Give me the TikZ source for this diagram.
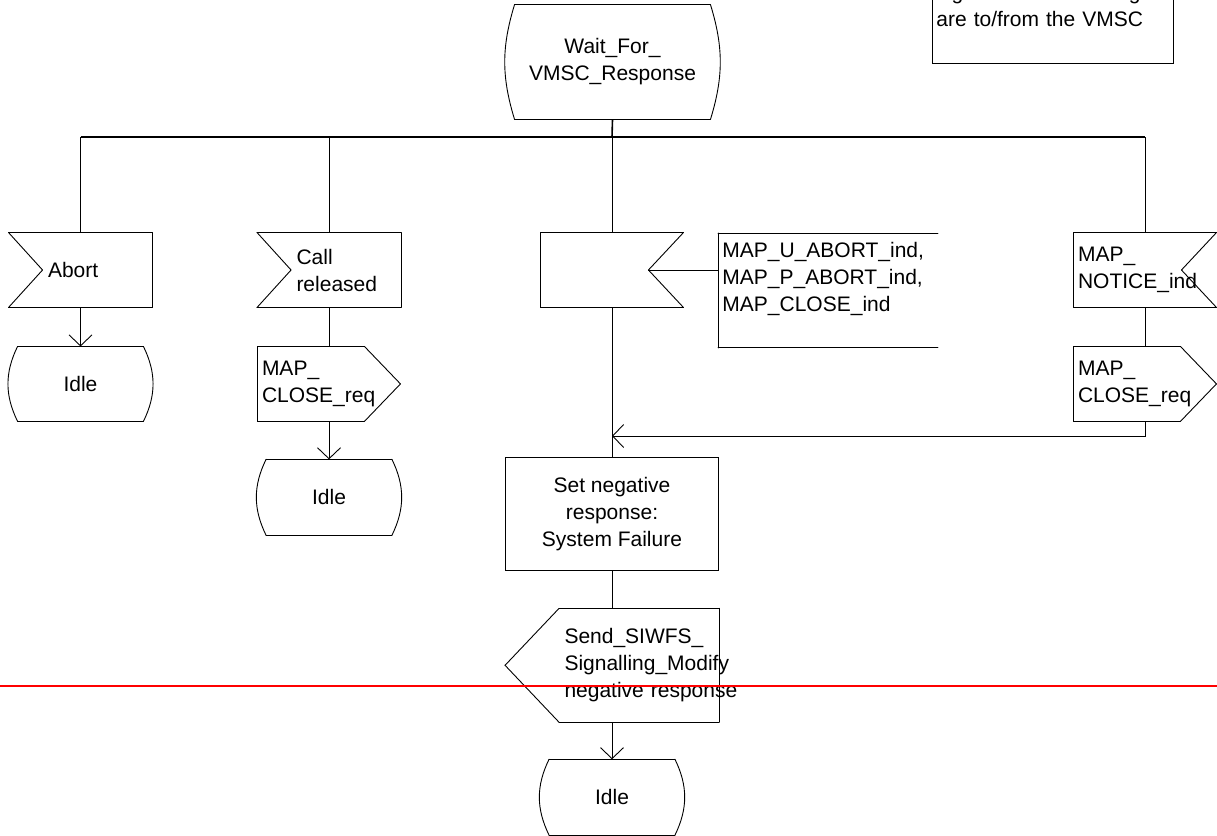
\documentclass[tikz,border=0pt]{standalone}
\usepackage{fontspec}
\setmainfont{Liberation Sans}
\usepackage{tikz}
\usetikzlibrary{
  positioning,
  arrows.meta
}
\tikzstyle{arrow}     = [->,>={Straight Barb[length=11pt,width=23pt]}]
\tikzstyle{busline}   = [line width=1.6pt]

\begin{document}
\begin{tikzpicture}[
x=1pt, y=-1pt, line width=0.9pt,
every node/.style={font=\fontsize{21}{27}\selectfont},
every edge/.style={draw, line cap=round},
statenode/.style={minimum width=125pt, minimum height=74pt, align=center,
  append after command={
    (\tikzlastnode.north west) edge (\tikzlastnode.north east)
    (\tikzlastnode.north east) edge[bend left=#1] (\tikzlastnode.south east)
    (\tikzlastnode.south east) edge (\tikzlastnode.south west)
    (\tikzlastnode.south west) edge[bend left=#1] (\tikzlastnode.north west)}},
statenode/.default=26,
inputnode/.style={minimum width=143pt, minimum height=74pt, inner xsep=39pt, text width=65pt, align=left,
  append after command={
    (\tikzlastnode.north west) edge (\tikzlastnode.north east)
    (\tikzlastnode.north east) edge (\tikzlastnode.south east)
    (\tikzlastnode.south east) edge (\tikzlastnode.south west)
    (\tikzlastnode.south west) edge ([xshift=34pt]\tikzlastnode.west)
    ([xshift=34pt]\tikzlastnode.west) edge (\tikzlastnode.north west)}},
inputrnode/.style={minimum width=142pt, minimum height=74pt, inner xsep=4pt, text width=134pt, align=left,
  append after command={
    (\tikzlastnode.north east) edge (\tikzlastnode.north west)
    (\tikzlastnode.north west) edge (\tikzlastnode.south west)
    (\tikzlastnode.south west) edge (\tikzlastnode.south east)
    (\tikzlastnode.south east) edge ([xshift=-35pt]\tikzlastnode.east)
    ([xshift=-35pt]\tikzlastnode.east) edge (\tikzlastnode.north east)}},
outputnode/.style={minimum width=142pt, minimum height=74pt, inner xsep=4pt, text width=134pt, align=left,
  append after command={
    (\tikzlastnode.north west) edge ([xshift=-36pt]\tikzlastnode.north east)
    ([xshift=-36pt]\tikzlastnode.north east) edge (\tikzlastnode.east)
    (\tikzlastnode.east) edge ([xshift=-36pt]\tikzlastnode.south east)
    ([xshift=-36pt]\tikzlastnode.south east) edge (\tikzlastnode.south west)
    (\tikzlastnode.south west) edge (\tikzlastnode.north west)}},
outputlnode/.style={minimum width=213pt, minimum height=113pt, inner xsep=59pt, text width=95pt, align=left,
  append after command={
    (\tikzlastnode.north east) edge ([xshift=54pt]\tikzlastnode.north west)
    ([xshift=54pt]\tikzlastnode.north west) edge (\tikzlastnode.west)
    (\tikzlastnode.west) edge ([xshift=54pt]\tikzlastnode.south west)
    ([xshift=54pt]\tikzlastnode.south west) edge (\tikzlastnode.south east)
    (\tikzlastnode.south east) edge (\tikzlastnode.north east)}},
extnode/.style={minimum width=219pt, minimum height=114pt, inner xsep=4pt, text width=211pt, align=left,
  append after command={
    (\tikzlastnode.north east) edge (\tikzlastnode.north west)
    (\tikzlastnode.north west) edge (\tikzlastnode.south west)
    (\tikzlastnode.south west) edge (\tikzlastnode.south east)}},
tasknode/.style={rectangle, draw, minimum width=213pt, minimum height=113pt, align=center},
commentnode/.style={rectangle, draw, inner xsep=4pt, text width=233pt, align=left},
]
\useasboundingbox (0,0) rectangle (1217,835);

%Nodes
\node[statenode=17, minimum width=195pt, minimum height=114pt] (wait) at (612.5,62) {Wait\_For\_\\VMSC\_Response};
\node[commentnode, anchor=south west] (note) at (932,64) {signals to/from the right\\are to/from the VMSC\\[7pt]\mbox{}};

\node[inputnode]   (inA)   at (80.5,270) {Abort};
\node[statenode]   (idleA) [below=39pt of inA] {Idle};

\node[inputnode]   (inB)   at (329,270) {Call\\released};
\node[outputnode]  (outB)  [below=39pt of inB] {MAP\_\\CLOSE\_req};
\node[statenode, minimum height=75pt] (idleB) [below=38pt of outB] {Idle};

\node[inputrnode]  (inC)   at (612,270) {};
\node[extnode, anchor=north west] (ext) at (718,233) {MAP\_U\_ABORT\_ind,\\MAP\_P\_ABORT\_ind,\\MAP\_CLOSE\_ind\\\mbox{}};
\node[tasknode]    (task)  [below=150pt of inC] {Set negative\\response:\\System Failure};
\node[outputlnode] (outC)  [below=37pt of task] {Send\_SIWFS\_\\Signalling\_Modify\\\mbox{negative response}};
\node[statenode, minimum height=75pt] (idleC) [below=37pt of outC] {Idle};

\node[inputrnode]  (inD)   at (1145,270) {MAP\_\\NOTICE\_ind};
\node[outputnode]  (outD)  [below=39pt of inD] {MAP\_\\CLOSE\_req};

\coordinate (branch) at (612,137);
\coordinate (notchC) at ([xshift=-35pt]inC.east);
\coordinate (joinC)  at (612,436);
\coordinate (redL)   at (0,686);
\coordinate (redR)   at (1217,686);

%Lines
\draw[busline] (wait.south) -- (branch);
\draw[busline] (inA.north |- branch) -- (inD.north |- branch);
\foreach \n in {inA,inB,inC,inD}
  \draw (\n.north |- branch) -- (\n.north);
\draw[arrow] (inA.south) -- (idleA.north);
\draw (inB.south) -- (outB.north);
\draw[arrow] (outB.south) -- (idleB.north);
\draw (notchC) -- (notchC -| ext.west);
\draw (inC.south) -- (task.north);
\draw (inD.south) -- (outD.north);
\draw[arrow] (outD.south) |- (joinC);
\draw (task.south) -- (outC.north);
\draw[arrow] (outC.south) -- (idleC.north);
\draw[red, line width=1.5pt] (redL) -- (redR);
\end{tikzpicture}
\end{document}
